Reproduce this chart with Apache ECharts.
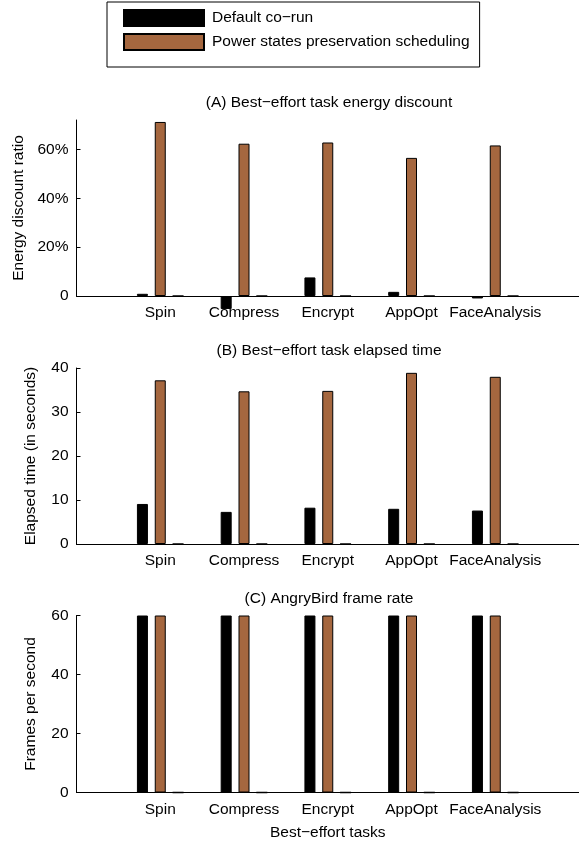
<!DOCTYPE html>
<html>
<head>
<meta charset="utf-8">
<script src="https://cdn.jsdelivr.net/npm/echarts@6/dist/echarts.min.js"></script>
<style>html,body{margin:0;padding:0;background:#fff;}#c{width:579px;height:843px;}</style>
</head>
<body>
<div id="c"></div>
<script>
const categories = ['Spin', 'Compress', 'Encrypt', 'AppOpt', 'FaceAnalysis'];
const seriesNames = ['Default co\u2212run', 'Power states preservation scheduling'];
// (A) energy discount ratio, %
const energyDefault = [0.9, -5.3, 7.6, 1.7, -1.0];
const energyPSP = [71.2, 62.3, 62.8, 56.5, 61.6];
// (B) elapsed time, seconds
const timeDefault = [9.1, 7.3, 8.25, 8.0, 7.6];
const timePSP = [37.2, 34.7, 34.8, 38.9, 38.0];
// (C) AngryBird frame rate
const fpsDefault = [60, 60, 60, 60, 60];
const fpsPSP = [60, 60, 60, 60, 60];
// empty third bar in each group
const emptyBar = [0, 0, 0, 0, 0];
// tick labels
const energyTicks = [0, 20, 40, 60];
const timeTicks = [0, 10, 20, 30, 40];
const fpsTicks = [0, 20, 40, 60];

const FONT = "'Liberation Sans', Arial, Helvetica, sans-serif";
const FS = 15.5;
const BROWN = '#a5673f';

const panels = [
  {title: '(A) Best\u2212effort task energy discount', yName: 'Energy discount ratio', d: energyDefault, p: energyPSP,
   ticks: energyTicks, max: 72, interval: 20, top: 120, height: 176, nameGap: 50, pct: true},
  {title: '(B) Best\u2212effort task elapsed time', yName: 'Elapsed time (in seconds)', d: timeDefault, p: timePSP,
   ticks: timeTicks, max: 40, interval: 10, top: 368, height: 176, nameGap: 38, pct: false},
  {title: '(C) AngryBird frame rate', yName: 'Frames per second', d: fpsDefault, p: fpsPSP,
   ticks: fpsTicks, max: 60, interval: 20, top: 615.5, height: 177, nameGap: 38, pct: false}
];

const toXY = arr => arr.map((v, i) => [i + 1, v]);

const option = {
  animation: false,
  backgroundColor: '#fff',
  textStyle: {fontFamily: FONT, fontSize: FS, color: '#000'},
  title: panels.map(pn => ({
    text: pn.title, left: 329, top: pn.top - 25, textAlign: 'center', padding: 0,
    textStyle: {fontFamily: FONT, fontSize: FS, fontWeight: 'normal', color: '#000'}
  })),
  legend: {
    data: seriesNames,
    orient: 'vertical', left: 107, top: 2,
    itemWidth: 80, itemHeight: 16, itemGap: 6,
    padding: [7, 10, 16, 16],
    borderColor: '#000', borderWidth: 1,
    icon: 'rect',
    textStyle: {fontFamily: FONT, fontSize: FS, color: '#000', lineHeight: 16, padding: [0, 0, 0, 3]}
  },
  grid: panels.map(pn => ({left: 76.5, right: 0, top: pn.top, height: pn.height,
    containLabel: false, outerBoundsMode: 'none'})),
  xAxis: panels.map((pn, k) => ({
    type: 'value', gridIndex: k, min: 0, max: 6, interval: 1,
    name: k === 2 ? 'Best\u2212effort tasks' : '', nameLocation: 'middle', nameGap: 32,
    nameTextStyle: {fontFamily: FONT, fontSize: FS, color: '#000'},
    axisLine: {show: true, onZero: false, lineStyle: {color: '#000', width: 1}},
    axisTick: {show: false}, splitLine: {show: false},
    axisLabel: {margin: 9, fontFamily: FONT, fontSize: FS, color: '#000',
      formatter: v => categories[v - 1] || ''}
  })),
  yAxis: panels.map((pn, k) => ({
    type: 'value', gridIndex: k, min: 0, max: pn.max, interval: pn.interval,
    name: pn.yName, nameLocation: 'middle', nameGap: pn.nameGap,
    nameTextStyle: {fontFamily: FONT, fontSize: FS, color: '#000'},
    axisLine: {show: true, lineStyle: {color: '#000', width: 1}},
    axisTick: {show: true, inside: true, length: 4, customValues: pn.ticks, lineStyle: {color: '#000'}},
    splitLine: {show: false},
    axisLabel: {margin: 8, fontFamily: FONT, fontSize: FS, color: '#000', customValues: pn.ticks,
      formatter: v => (pn.pct && v !== 0) ? v + '%' : String(v)}
  })),
  series: []
};

panels.forEach((pn, k) => {
  const common = {type: 'bar', xAxisIndex: k, yAxisIndex: k, barWidth: 11, barGap: '62%', clip: false};
  option.series.push(Object.assign({}, common, {
    name: seriesNames[0], data: toXY(pn.d), z: 3,
    itemStyle: {color: '#000', borderColor: '#000', borderWidth: 1}
  }));
  option.series.push(Object.assign({}, common, {
    name: seriesNames[1], data: toXY(pn.p),
    itemStyle: {color: BROWN, borderColor: '#000', borderWidth: 1}
  }));
  option.series.push(Object.assign({}, common, {
    name: 'empty', data: toXY(emptyBar),
    itemStyle: {color: '#666', borderColor: '#000', borderWidth: 1.5}
  }));
});

const chart = echarts.init(document.getElementById('c'), null, {renderer: 'canvas'});
chart.setOption(option);
</script>
</body>
</html>
